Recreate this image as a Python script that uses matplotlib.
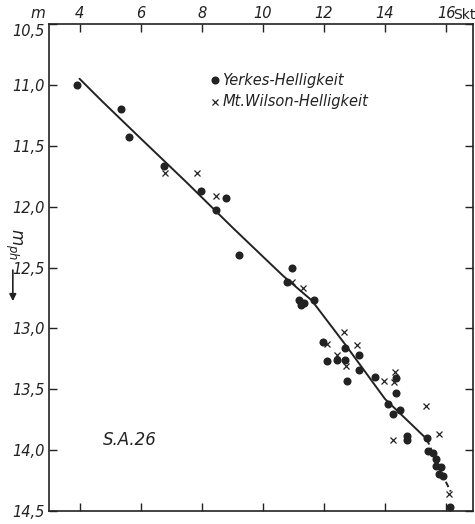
import matplotlib
matplotlib.use("Agg")
import matplotlib.pyplot as plt
from matplotlib.transforms import ScaledTranslation

plt.rcParams["font.family"] = ["Liberation Sans Narrow", "DejaVu Sans"]
plt.rcParams["font.style"] = "italic"

# Yerkes-Helligkeit (dots)
yerkes_x = [3.9, 5.37, 5.61, 6.77, 7.96, 8.78, 8.48, 9.21, 10.94, 10.80,
            11.19, 11.34, 11.26, 11.68, 11.96, 12.69, 13.16, 12.11, 12.44,
            12.69, 13.16, 12.77, 13.68, 14.35, 14.35, 14.09, 14.49, 14.25,
            14.71, 14.71, 15.37, 15.40, 15.58, 15.67, 15.66, 15.83, 15.77,
            15.91, 16.13]
yerkes_y = [11.0, 11.20, 11.43, 11.67, 11.87, 11.93, 12.03, 12.40, 12.50, 12.62,
            12.77, 12.79, 12.81, 12.77, 13.11, 13.16, 13.22, 13.27, 13.26,
            13.26, 13.34, 13.43, 13.40, 13.41, 13.53, 13.62, 13.67, 13.70,
            13.88, 13.92, 13.90, 14.01, 14.02, 14.07, 14.13, 14.14, 14.20,
            14.21, 14.47]

# Mt.Wilson-Helligkeit (crosses)
wilson_x = [6.80, 7.83, 8.48, 10.94, 11.32, 12.67, 12.09, 13.09, 12.44, 12.71,
            13.98, 14.33, 14.30, 15.33, 14.27, 15.77, 16.11]
wilson_y = [11.72, 11.72, 11.91, 12.62, 12.67, 13.03, 13.13, 13.14, 13.22, 13.31,
            13.43, 13.36, 13.44, 13.64, 13.92, 13.87, 14.36]

# mean curve, solid part and dashed continuation
curve_x = [4.0, 4.72, 6.0, 7.5, 9.0, 10.0, 10.67, 11.6, 12.69, 14.0, 15.37]
curve_y = [10.95, 11.13, 11.44, 11.80, 12.17, 12.41, 12.57, 12.77, 13.13, 13.58, 13.91]
dash_x = [15.37, 15.69, 15.95, 16.15]
dash_y = [13.91, 14.10, 14.24, 14.34]

x_ticks = [4, 6, 8, 10, 12, 14, 16]
x_labels = ["4", "6", "8", "10", "12", "14", "16"]
y_ticks = [10.5, 11.0, 11.5, 12.0, 12.5, 13.0, 13.5, 14.0, 14.5]
y_labels = ["10,5", "11,0", "11,5", "12,0", "12,5", "13,0", "13,5", "14,0", "14,5"]

ink = "#222222"

fig = plt.figure(figsize=(4.75, 5.24), dpi=100)
ax = fig.add_axes([0.1032, 0.0248, 0.8926, 0.9294])

ax.plot(curve_x, curve_y, color=ink, lw=1.4, solid_capstyle="round")
ax.plot(dash_x, dash_y, color=ink, lw=1.4, linestyle=(0, (3, 1.8)))
ax.plot(yerkes_x, yerkes_y, "o", color=ink, ms=4.8, mec=ink)
ax.plot(wilson_x, wilson_y, "x", color=ink, ms=5, mew=0.9)

ax.set_xlim(3.0, 16.88)
ax.set_ylim(14.5, 10.5)

ax.set_xticks(x_ticks)
ax.set_xticklabels(x_labels)
ax.set_yticks(y_ticks)
ax.set_yticklabels(y_labels)
ax.tick_params(axis="x", direction="in", top=True, bottom=True,
               labeltop=True, labelbottom=False, length=6, width=1,
               pad=2, labelsize=10.5, colors=ink)
ax.tick_params(axis="y", direction="in", left=True, right=True,
               labelleft=True, labelright=False, length=6, width=1,
               pad=3, labelsize=10.5, colors=ink)
for s in ax.spines.values():
    s.set_linewidth(1.2)
    s.set_color(ink)

# "10,5" sits a little below its tick in the original
first = ax.get_yticklabels()[0]
first.set_transform(first.get_transform() + ScaledTranslation(0, -0.06, fig.dpi_scale_trans))

# legend drawn by hand like in the original
ax.plot([8.45], [10.96], "o", color=ink, ms=4.8)
ax.plot([8.45], [11.14], "x", color=ink, ms=5, mew=0.9)
ax.text(8.68, 10.96, "Yerkes-Helligkeit", fontsize=10.5, va="center", color=ink)
ax.text(8.68, 11.14, "Mt.Wilson-Helligkeit", fontsize=10.5, va="center", color=ink)

ax.text(4.75, 13.92, "S.A.26", fontsize=12, va="center", color=ink)

fig.text(0.08, 0.975, "m", fontsize=11, ha="center", va="center", color=ink)
fig.text(0.955, 0.971, "Skt", fontsize=10, ha="left", va="center",
         color=ink, style="normal")
fig.text(0.027, 0.535, r"$m_{ph}$", fontsize=12, rotation=-90,
         ha="center", va="center", color=ink)
fig.add_artist(matplotlib.patches.FancyArrowPatch(
    (0.027, 0.490), (0.027, 0.420), transform=fig.transFigure,
    arrowstyle="-|>", mutation_scale=10, color=ink, lw=1.2))

fig.savefig("out.png", dpi=100)
